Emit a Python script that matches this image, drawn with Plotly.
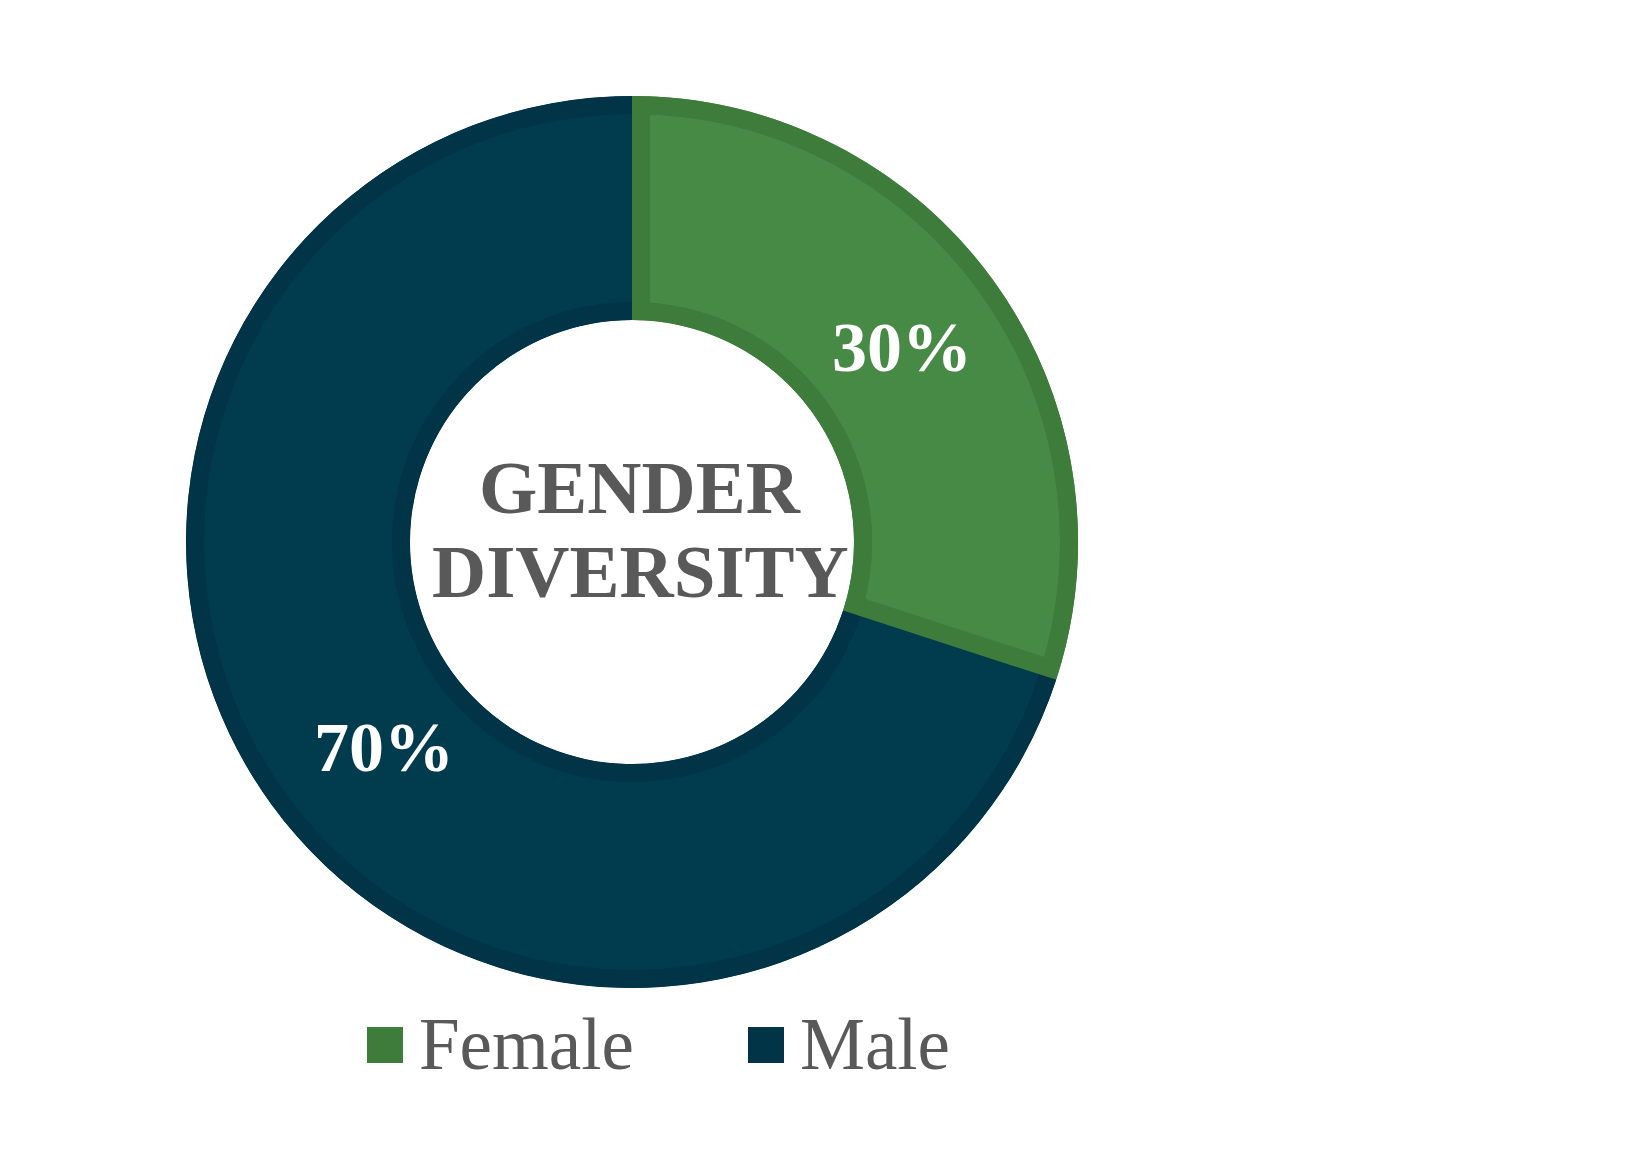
import plotly.graph_objects as go

# ---- data ----
labels = ["Female", "Male"]
values = [30, 70]
center_lines = ["GENDER", "DIVERSITY"]

# ---- styles ----
fill_colors = ["#478A46", "#013B4E"]
border_colors = ["#3E7C3C", "#023448"]
text_gray = "#595959"
SERIF = "Liberation Serif, Times New Roman, serif"

OFF = 8                     # default body margin of the html page
W, H = 1650 - OFF, 1155 - OFF
CX, CY = 632, 542           # donut centre in page px
R_OUT, R_IN = 446, 222      # outer radius / hole radius in px
BW = 18                     # border width in px


def px(x):
    return (x - OFF) / W


def py(y):
    return 1 - (y - OFF) / H


def dom(r):
    return dict(x=[px(CX - r), px(CX + r)], y=[py(CY + r), py(CY - r)])


common = dict(labels=labels, values=values, sort=False, direction="clockwise",
              rotation=0, showlegend=False, hoverinfo="skip", textinfo="none")

fig = go.Figure()

# main donut: light fills, Female gets an inner border via stroke
fig.add_trace(go.Pie(
    **common, domain=dom(R_OUT), hole=R_IN / R_OUT,
    marker=dict(colors=fill_colors,
                line=dict(color=border_colors, width=[2 * BW, 0])),
))
# white cover outside the ring (hides stroke spill)
fig.add_trace(go.Pie(
    **common, domain=dom(R_OUT + 40), hole=(R_OUT + 1) / (R_OUT + 40),
    marker=dict(colors=["white", "white"], line=dict(color="white", width=2)),
))
# white cover inside the hole
fig.add_trace(go.Pie(
    **common, domain=dom(R_IN - 1), hole=0,
    marker=dict(colors=["white", "white"], line=dict(color="white", width=2)),
))
# outer and inner border rings
fig.add_trace(go.Pie(
    **common, domain=dom(R_OUT), hole=(R_OUT - BW) / R_OUT,
    marker=dict(colors=border_colors, line=dict(width=0)),
))
fig.add_trace(go.Pie(
    **common, domain=dom(R_IN + BW), hole=R_IN / (R_IN + BW),
    marker=dict(colors=border_colors, line=dict(width=0)),
))

# percentage labels
total = sum(values)
pct_pos = [(902, 347), (384, 747)]
for v, (lx, ly) in zip(values, pct_pos):
    fig.add_annotation(x=px(lx), y=py(ly), xref="paper", yref="paper",
                       text=f"{round(100 * v / total)}%", showarrow=False,
                       xanchor="center", yanchor="middle",
                       font=dict(family=SERIF, size=70, color="white", weight="bold"))

# centre title
for line, ypx in zip(center_lines, [487, 571]):
    fig.add_annotation(x=px(640), y=py(ypx), xref="paper", yref="paper",
                       text=line, showarrow=False, xanchor="center", yanchor="middle",
                       font=dict(family=SERIF, size=75, color=text_gray, weight="bold"))

# custom legend
leg_sq_x = [367, 748]
leg_tx_x = [417, 798]
for lab, col, sx, tx in zip(labels, border_colors, leg_sq_x, leg_tx_x):
    fig.add_shape(type="rect", xref="paper", yref="paper",
                  x0=px(sx), x1=px(sx + 36), y0=py(1063), y1=py(1027),
                  fillcolor=col, line=dict(width=0))
    fig.add_annotation(x=px(tx), y=py(1044), xref="paper", yref="paper",
                       text=lab, showarrow=False, xanchor="left", yanchor="middle",
                       font=dict(family=SERIF, size=73, color=text_gray))

fig.update_layout(width=W, height=H, margin=dict(l=0, r=0, t=0, b=0),
                  paper_bgcolor="white", plot_bgcolor="white")

fig.write_html("out.html")
